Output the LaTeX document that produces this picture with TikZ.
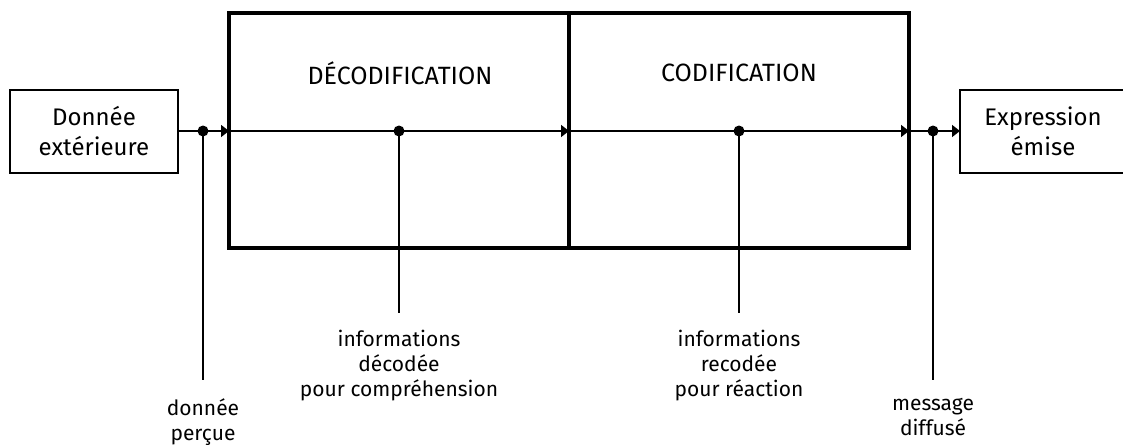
\documentclass[tikz,border=0pt]{standalone}
\usepackage{fontspec}
\setmainfont{Fira Sans}
\usetikzlibrary{arrows.meta}
\begin{document}
\begin{tikzpicture}[x=1pt,y=-1pt,
  txt/.style={font=\fontsize{21}{25}\selectfont, align=center, inner sep=0pt},
  sidebox/.style={draw, line width=1.5pt, minimum width=168pt, minimum height=83pt, inner sep=0pt, align=center, font=\fontsize{24}{30}\selectfont},
  bigbox/.style={draw, line width=4.5pt, minimum width=340pt, minimum height=235pt, inner sep=0pt},
  dot/.style={circle, fill, inner sep=0pt, minimum size=11pt},
  flow/.style={line width=1.5pt, -{Triangle[length=8pt,width=12pt]}},
  thin/.style={line width=1.5pt},
  title/.style={font=\fontsize{25}{30}\selectfont, inner sep=0pt}
]
\useasboundingbox (0,0) rectangle (1123,444);
\node[sidebox] (src) at (94,131.5) {Donnée\\extérieure};
\node[sidebox, minimum width=166pt] (dst) at (1043,131.5) {Expression\\émise};
\node[bigbox] (dec) at (399,130.5) {};
\node[bigbox] (cod) at (739,130.5) {};
\node[title] (tdec) at (400,73) {DÉCODIFICATION};
\node[title] (tcod) at (739,73) {CODIFICATION};
\coordinate (a1) at (229,131);
\coordinate (a2) at (569,131);
\coordinate (a3) at (909,131);
\coordinate (a4) at (960,131);
\draw[flow] (src.east |- a1) -- (a1);
\draw[flow] (a1) -- (a2);
\draw[flow] (a2) -- (a3);
\draw[flow] (a3) -- (a4);
\node[dot] (d1) at (203,131) {};
\node[dot] (d2) at (399,131) {};
\node[dot] (d3) at (739,131) {};
\node[dot] (d4) at (933,131) {};
\node[txt, anchor=north] (l1) at (203,398) {donnée\\perçue};
\node[txt, anchor=north] (l2) at (399,330) {informations\\décodée\\pour compréhension};
\node[txt, anchor=north] (l3) at (739,330) {informations\\recodée\\pour réaction};
\node[txt, anchor=north] (l4) at (933,398) {message\\diffusé};
\draw[thin, shorten >=18pt] (d1.center) -- (l1.north);
\draw[thin, shorten >=17pt] (d2.center) -- (l2.north);
\draw[thin, shorten >=17pt] (d3.center) -- (l3.north);
\draw[thin, shorten >=18pt] (d4.center) -- (l4.north);
\end{tikzpicture}
\end{document}
